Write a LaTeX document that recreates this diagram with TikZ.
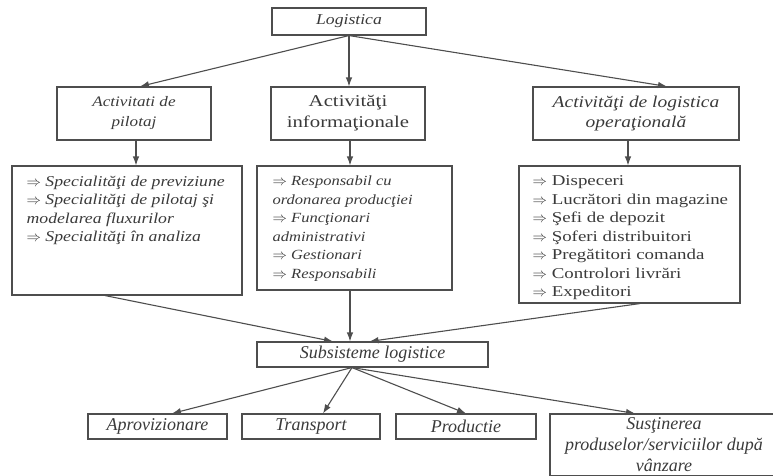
\documentclass[tikz,border=0pt]{standalone}
\usepackage{fontspec}
\setmainfont{Liberation Serif}
\newfontfamily\widefont[FakeStretch=1.18]{Liberation Serif}
\newfontfamily\widerfont[FakeStretch=1.26]{Liberation Serif}
\usetikzlibrary{arrows.meta}
\definecolor{inkgray}{HTML}{3A3A3A}
\definecolor{edgegray}{HTML}{4E4E4E}
\newcommand{\listarrow}{$\Rightarrow$ }

\begin{document}
\begin{tikzpicture}[x=1pt, y=-1pt, >={Latex[length=9pt,width=6.5pt]},
    box/.style={draw=edgegray, line width=1.1pt, inner sep=0pt,
                text=inkgray, align=center},
    head/.style={box, font=\widefont\itshape\fontsize{15}{20}\selectfont},
    listbox/.style={draw=edgegray, line width=1.1pt, inner sep=0pt},
    listtxt/.style={inner sep=0pt, align=left, text=inkgray, anchor=north west},
    leaf/.style={box, minimum height=25, font=\itshape\fontsize{18}{21}\selectfont},
    link/.style={->, line width=1.1pt, draw=edgegray}]

  \useasboundingbox (0,0) rectangle (773,475);

  % ---- the root
  \node[head, minimum width=154, minimum height=27] (logi) at (349,21.5) {Logistica};

  % ---- the three kinds of activity
  \node[head, minimum width=154, minimum height=53,
        font=\widefont\itshape\fontsize{14.5}{20}\selectfont] (pilot) at (134,113.5)
    {Activitati de\\pilotaj};
  \node[head, minimum width=154, minimum height=53,
        font=\widerfont\fontsize{16.5}{21}\selectfont] (info) at (348,113.5)
    {Activităţi\\informaţionale};
  \node[head, minimum width=206, minimum height=53,
        font=\widefont\itshape\fontsize{16.5}{20}\selectfont] (oper) at (636,113.5)
    {Activităţi de logistica\\operaţională};
  \draw[link] (logi.south) -- ([xshift=6]pilot.north);
  \draw[link] (logi.south) -- (logi.south |- info.north);
  \draw[link] (logi.south) -- ([xshift=31]oper.north);

  % ---- who does the work: box first, then its list
  \node[listbox, minimum width=230, minimum height=129] (lstA) at (127,230.5) {};
  \node[listtxt, font=\widefont\itshape\fontsize{15}{18.5}\selectfont] (txtA)
    at ([shift={(15,10)}]lstA.north west)
    {\listarrow Specialităţi de previziune\\
     \listarrow Specialităţi de pilotaj şi\\
     modelarea fluxurilor\\
     \listarrow Specialităţi în analiza};
  \node[listbox, minimum width=195, minimum height=124] (lstB) at (354.5,228) {};
  \node[listtxt, font=\widefont\itshape\fontsize{14}{18.5}\selectfont] (txtB)
    at ([shift={(16,10.5)}]lstB.north west)
    {\listarrow Responsabil cu\\
     ordonarea producţiei\\
     \listarrow Funcţionari\\
     administrativi\\
     \listarrow Gestionari\\
     \listarrow Responsabili};
  \node[listbox, minimum width=221, minimum height=137] (lstC) at (629.5,234.5) {};
  \node[listtxt, font=\widerfont\fontsize{15}{18.5}\selectfont] (txtC)
    at ([shift={(14,10)}]lstC.north west)
    {\listarrow Dispeceri\\
     \listarrow Lucrători din magazine\\
     \listarrow Şefi de depozit\\
     \listarrow Şoferi distribuitori\\
     \listarrow Pregătitori comanda\\
     \listarrow Controlori livrări\\
     \listarrow Expeditori};
  \draw[link] ([xshift=2]pilot.south) -- ([xshift=2]pilot.south |- lstA.north);
  \draw[link] ([xshift=2]info.south) -- ([xshift=2]info.south |- lstB.north);
  \draw[link] ([xshift=-1.5]lstC.north |- oper.south) -- ([xshift=-1.5]lstC.north);

  % ---- everything gathers into the subsystems
  \node[box, minimum width=231, minimum height=25,
        font=\itshape\fontsize{18}{21}\selectfont] (subs) at (372.5,354.5)
    {Subsisteme logistice};
  \draw[link] ([xshift=-22]lstA.south) -- ([xshift=-39.5]subs.north);
  \draw[link] ([xshift=-4.5]lstB.south) -- ([xshift=-4.5]lstB.south |- subs.north);
  \draw[link] ([xshift=10.5]lstC.south) -- ([xshift=-3]subs.north);

  % ---- the four subsystems (the last one runs off the page)
  \node[leaf, minimum width=139] (aprov) at (157.5,426.5) {Aprovizionare};
  \node[leaf, minimum width=138] (trans) at (311,426.5) {Transport};
  \node[leaf, minimum width=140] (prod) at (466,426.5) {Productie};
  \node[leaf, minimum width=228, minimum height=62] (sust) at (664,445)
    {Susţinerea\\produselor/serviciilor după\\vânzare};
  \draw[link] ([xshift=-20.5]subs.south) -- ([xshift=14.5]aprov.north);
  \draw[link] ([xshift=-20.5]subs.south) -- ([xshift=12]trans.north);
  \draw[link] ([xshift=-20.5]subs.south) -- (prod.north);
  \draw[link] ([xshift=-20.5]subs.south) -- ([xshift=-29]sust.north);
\end{tikzpicture}
\end{document}
